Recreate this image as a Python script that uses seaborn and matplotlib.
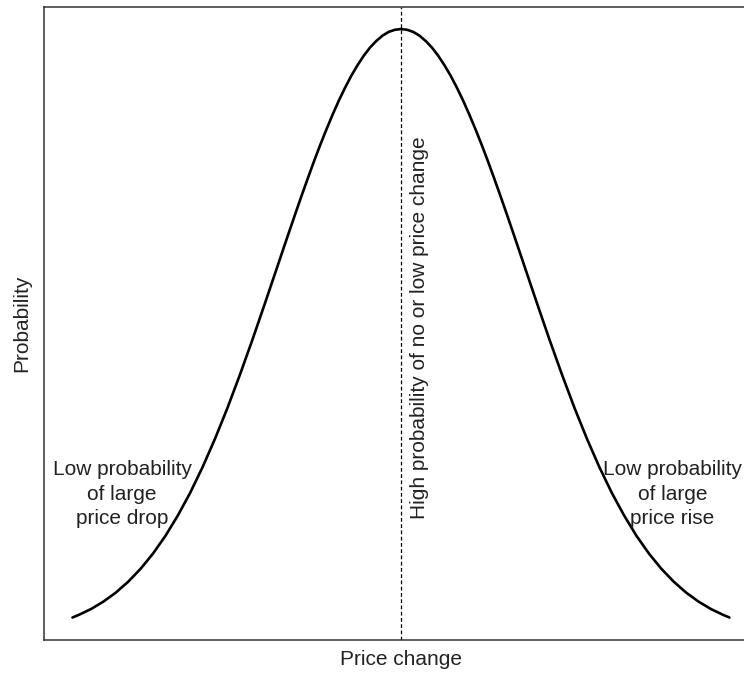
import matplotlib
matplotlib.use('Agg')
import matplotlib.pyplot as plt
import seaborn as sns
import pandas as pd

# Price change (in standard deviations) and probability
price_change = [-2.65, -2.6, -2.5, -2.4, -2.3, -2.2, -2.1, -2.0, -1.9, -1.8, -1.7, -1.6,
                -1.5, -1.4, -1.3, -1.2, -1.1, -1.0, -0.95, -0.9, -0.85, -0.8, -0.75,
                -0.7, -0.65, -0.6, -0.55, -0.5, -0.45, -0.4, -0.35, -0.3, -0.25, -0.2,
                -0.15, -0.1, -0.05, 0.0, 0.05, 0.1, 0.15, 0.2, 0.25, 0.3, 0.35, 0.4,
                0.45, 0.5, 0.55, 0.6, 0.65, 0.7, 0.75, 0.8, 0.85, 0.9, 0.95, 1.0,
                1.1, 1.2, 1.3, 1.4, 1.5, 1.6, 1.7, 1.8, 1.9, 2.0, 2.1, 2.2, 2.3, 2.4,
                2.5, 2.6, 2.65]
probability = [0.0119, 0.0136, 0.0175, 0.0224, 0.0283, 0.0355, 0.0440, 0.0540, 0.0656,
               0.0790, 0.0940, 0.1109, 0.1295, 0.1497, 0.1714, 0.1942, 0.2179, 0.2420,
               0.2541, 0.2661, 0.2780, 0.2897, 0.3011, 0.3123, 0.3230, 0.3332, 0.3429,
               0.3521, 0.3605, 0.3683, 0.3752, 0.3814, 0.3867, 0.3910, 0.3945, 0.3970,
               0.3984, 0.3989, 0.3984, 0.3970, 0.3945, 0.3910, 0.3867, 0.3814, 0.3752,
               0.3683, 0.3605, 0.3521, 0.3429, 0.3332, 0.3230, 0.3123, 0.3011, 0.2897,
               0.2780, 0.2661, 0.2541, 0.2420, 0.2179, 0.1942, 0.1714, 0.1497, 0.1295,
               0.1109, 0.0940, 0.0790, 0.0656, 0.0540, 0.0440, 0.0355, 0.0283, 0.0224,
               0.0175, 0.0136, 0.0119]

df = pd.DataFrame({'price_change': price_change, 'probability': probability})

sns.set_style('white')
plt.rcParams['font.family'] = ['Liberation Sans', 'DejaVu Sans']

fig = plt.figure(figsize=(7.44, 6.73), dpi=100)
ax = fig.add_axes([0.0591, 0.049, 0.9597, 0.9406])

sns.lineplot(data=df, x='price_change', y='probability', color='black',
             linewidth=1.9, solid_joinstyle='round', ax=ax)
ax.axvline(0, color='black', linewidth=0.9, linestyle=(0, (3, 2)))

ax.set_xlim(-2.88, 2.88)
ax.set_ylim(-0.0029, 0.4134)
ax.set_xticks([])
ax.set_yticks([])
for s in ax.spines.values():
    s.set_color('#333333')
    s.set_linewidth(1.1)

# Annotations
ax.text(-2.25, 0.093, 'Low probability\nof large\nprice drop', ha='center', va='center',
        fontsize=15, color='#222222', linespacing=1.38)
ax.text(2.19, 0.093, 'Low probability\nof large\nprice rise', ha='center', va='center',
        fontsize=15, color='#222222', linespacing=1.38)
ax.text(0.153, 0.0767, 'High probability of no or low price change', rotation=90,
        ha='center', va='bottom', fontsize=15, color='#222222')

ax.set_xlabel('Price change', fontsize=15, color='#222222', labelpad=7)
ax.set_ylabel('Probability', fontsize=15, color='#222222', labelpad=9)

plt.savefig('out.png', dpi=100)
plt.close()
